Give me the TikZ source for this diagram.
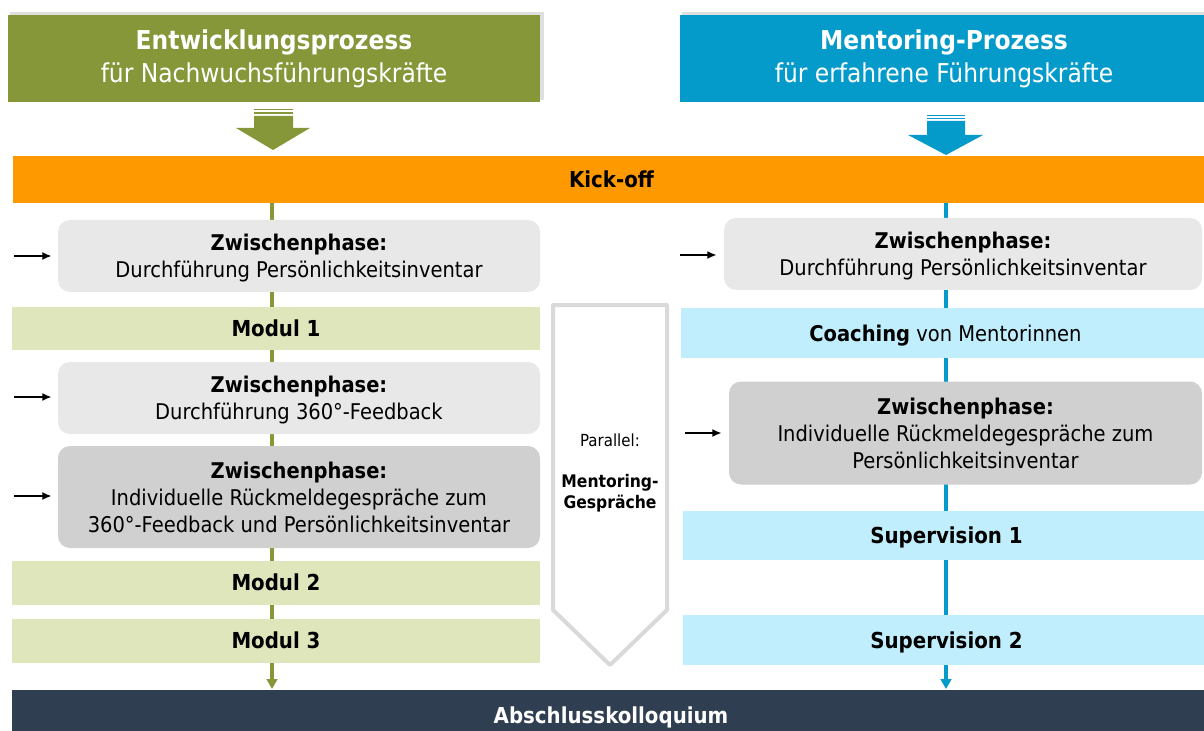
\documentclass[tikz,border=0pt]{standalone}
\usepackage{fontspec}
\setmainfont{DejaVu Sans Condensed}
\usetikzlibrary{arrows.meta}

\definecolor{olive}{RGB}{134,151,57}
\definecolor{olivelight}{RGB}{223,230,188}
\definecolor{cyanblue}{RGB}{4,155,203}
\definecolor{cyanlight}{RGB}{193,238,252}
\definecolor{kickorange}{RGB}{255,153,0}
\definecolor{phaselight}{RGB}{232,232,232}
\definecolor{phasedark}{RGB}{208,208,208}
\definecolor{navy}{RGB}{47,62,80}
\definecolor{parallelgrey}{RGB}{217,217,217}

\tikzset{
  body/.style={font=\fontsize{16.25}{20.25}\selectfont, align=center, inner sep=0pt, text=black},
  header/.style={font=\fontsize{19.5}{24.75}\selectfont, align=center, inner sep=0pt, text=white,
                 minimum height=65.25pt},
  oneline/.style={text height=12pt, text depth=0pt},
  phaselt/.style={body, text depth=0pt, fill=phaselight, rounded corners=9pt},
  phasedk/.style={body, text depth=0pt, fill=phasedark, rounded corners=9pt},
  boldbar/.style={body, oneline, font=\fontsize{16.5}{20.25}\selectfont\bfseries},
  modulbox/.style={boldbar, fill=olivelight},
  mentorbox/.style={body, oneline, fill=cyanlight},
  flowgreen/.style={draw=olive, line width=2.6pt, -{Triangle[length=7.5pt,width=8pt]}},
  flowblue/.style={draw=cyanblue, line width=2.6pt, -{Triangle[length=7.5pt,width=8pt]}},
  inarrow/.style={draw=black, line width=1.5pt, -{Latex[length=7pt,width=6pt]}},
}

\begin{document}
\begin{tikzpicture}[x=0.75pt,y=-0.75pt]
\useasboundingbox (0,0) rectangle (1204,731);
\clip (0,0) rectangle (1204,731);

% header shadows
\fill[black!25, opacity=0.5] (10,12) rectangle (544,100);
\fill[black!25, opacity=0.5] (682,12) rectangle (1210,100);

% headers
\node[header, fill=olive, minimum width=399pt] (hl) at (274,58.5)
  {\textbf{Entwicklungsprozess}\\für Nachwuchsführungskräfte};
\node[header, fill=cyanblue, minimum width=396pt] (hr) at (944,58.5)
  {\textbf{Mentoring-Prozess}\\für erfahrene Führungskräfte};

% striped block arrows below the headers
\fill[olive] (254,109) rectangle (293,110.5);
\fill[olive] (254,112.5) rectangle (293,114);
\fill[olive] (254,116) -- (293,116) -- (293,128) -- (310,128) -- (273,150)
  -- (236,128) -- (254,128) -- cycle;
\fill[cyanblue] (927,115) rectangle (965,116.5);
\fill[cyanblue] (927,118) rectangle (965,119.5);
\fill[cyanblue] (927,121) -- (965,121) -- (965,135) -- (983,135) -- (946,155)
  -- (908,135) -- (927,135) -- cycle;

% process lines running behind the boxes
\coordinate (gtop) at (272,203);
\coordinate (gbot) at (272,689);
\coordinate (btop) at (946,203);
\coordinate (bbot) at (946,689);
\draw[flowgreen] (gtop) -- (gbot);
\draw[flowblue] (btop) -- (bbot);

% kick-off and final bar
\node[boldbar, fill=kickorange, minimum width=897.75pt, minimum height=35.25pt] (kick) at (611.5,180) {Kick-off};
\node[boldbar, fill=navy, text=white, minimum width=898.5pt, minimum height=37.5pt] (final) at (611,715) {Abschlusskolloquium};

% left column
\node[phaselt, minimum width=361.5pt, minimum height=54pt] (zl1) at (299,256)
  {\textbf{Zwischenphase:}\\Durchführung Persönlichkeitsinventar};
\node[modulbox, minimum width=396pt, minimum height=32.25pt] (m1) at (276,328) {Modul 1};
\node[phaselt, minimum width=361.5pt, minimum height=54pt] (zl2) at (299,398)
  {\textbf{Zwischenphase:}\\Durchführung 360°-Feedback};
\node[phasedk, minimum width=361.5pt, minimum height=76.5pt] (zl3) at (299,497)
  {\textbf{Zwischenphase:}\\Individuelle Rückmeldegespräche zum\\360°-Feedback und Persönlichkeitsinventar};
\node[modulbox, minimum width=396pt, minimum height=33pt] (m2) at (276,582.5) {Modul 2};
\node[modulbox, minimum width=396pt, minimum height=33pt] (m3) at (276,640.5) {Modul 3};

% right column
\node[phaselt, minimum width=358.5pt, minimum height=54pt] (zr1) at (963,254)
  {\textbf{Zwischenphase:}\\Durchführung Persönlichkeitsinventar};
\node[mentorbox, minimum width=396.75pt, minimum height=37.5pt] (coach) at (945.5,333)
  {\textbf{Coaching} von Mentorinnen};
\node[phasedk, minimum width=354.75pt, minimum height=77.25pt] (zr2) at (965.5,433)
  {\textbf{Zwischenphase:}\\Individuelle Rückmeldegespräche zum\\Persönlichkeitsinventar};
\node[mentorbox, font=\fontsize{16.5}{20.25}\selectfont\bfseries, minimum width=395.25pt, minimum height=36.75pt] (s1) at (946.5,535)
  {Supervision 1};
\node[mentorbox, font=\fontsize{16.5}{20.25}\selectfont\bfseries, minimum width=395.25pt, minimum height=37.5pt] (s2) at (946.5,640)
  {Supervision 2};

% parallel mentoring talks
\draw[parallelgrey, line width=3pt, line join=round, fill=white]
  (553,305) -- (667,305) -- (667,610) -- (610,665) -- (553,610) -- cycle;
\node[body, font=\fontsize{12.5}{15.75}\selectfont] (par) at (610,440) {Parallel:};
\node[body, font=\fontsize{13}{15.75}\selectfont\bfseries] (ment) at (610,493) {Mentoring-\\Gespräche};

% incoming arrows
\coordinate (a1) at (14,256);
\coordinate (a2) at (14,397);
\coordinate (a3) at (14,496);
\coordinate (a4) at (680,255);
\coordinate (a5) at (685,433);
\draw[inarrow, shorten >=4.5pt] (a1) -- (a1 -| zl1.west);
\draw[inarrow, shorten >=4.5pt] (a2) -- (a2 -| zl2.west);
\draw[inarrow, shorten >=4.5pt] (a3) -- (a3 -| zl3.west);
\draw[inarrow, shorten >=5.25pt] (a4) -- (a4 -| zr1.west);
\draw[inarrow, shorten >=5.25pt] (a5) -- (a5 -| zr2.west);
\end{tikzpicture}
\end{document}
